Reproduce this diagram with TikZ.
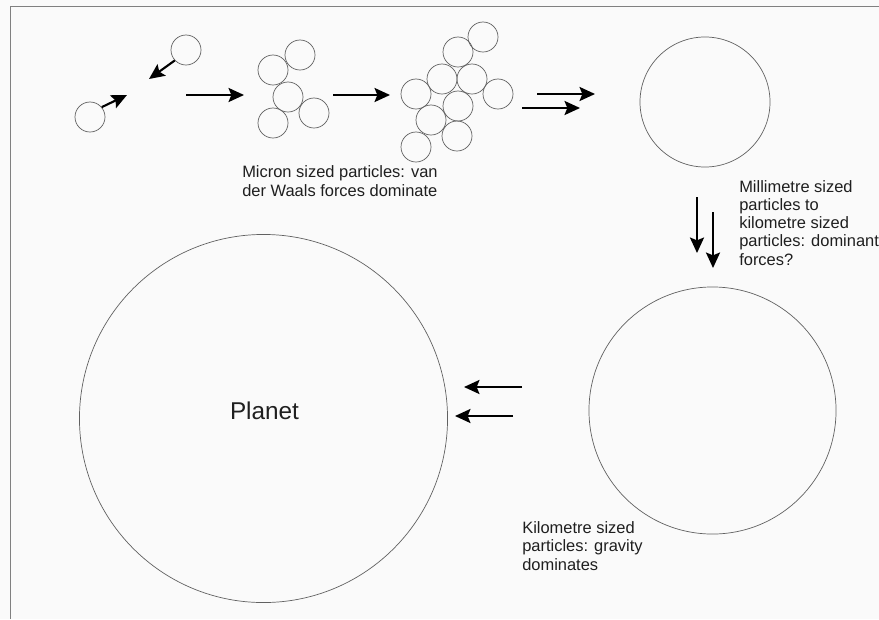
\documentclass[tikz,border=0pt]{standalone}
\usepackage{fontspec}
\setmainfont{Liberation Sans}
\usetikzlibrary{arrows.meta}
\tikzset{
	grain/.style={circle, draw=black!62, line width=0.5pt, inner sep=0pt, minimum size=0.75cm},
	body/.style={circle, draw=black!62, line width=0.5pt, inner sep=0pt},
	flow/.style={line width=1.5pt, -{Stealth[length=11pt, width=10pt, inset=2pt]}},
	caption/.style={anchor=base west, inner sep=0pt, align=left, text=black!88, font=\fontsize{11.7}{12.9}\selectfont},
	frame/.style={draw=black!50, line width=0.7pt},
}

\begin{document}
\begin{tikzpicture}[x=0.025cm, y=-0.025cm]
		%%%%% START %%%%%
		\fill[black!2] (0, 0) rectangle (879, 619);
		\useasboundingbox (0, 0) rectangle (879, 619);
		\draw[frame] (10, 619) -- (10, 6) -- (879, 6);
		
		% two free grains
		\node[grain] (g1) at (90, 117) {};
		\node[grain] (g2) at (186, 50) {};
		\coordinate (g1hit) at (127, 95);
		\coordinate (g2hit) at (149, 79);
		\draw[flow] (g1.40) -- (g1hit);
		\draw[flow] (g2.223) -- (g2hit);
		
		% small cluster
		\node[grain] (c1) at (273, 70) {};
		\node[grain] (c2) at (300, 55) {};
		\node[grain] (c3) at (288, 97) {};
		\node[grain] (c4) at (314, 113) {};
		\node[grain] (c5) at (273, 123) {};
		\coordinate (s1a) at (186, 95);
		\coordinate (s1b) at (244, 95);
		\draw[flow] (s1a) -- (s1b);
		
		% big cluster
		\node[grain] (k1) at (483, 37) {};
		\node[grain] (k2) at (458, 52) {};
		\node[grain] (k3) at (442, 79) {};
		\node[grain] (k4) at (472, 79) {};
		\node[grain] (k5) at (416, 94) {};
		\node[grain] (k6) at (498, 94) {};
		\node[grain] (k7) at (458, 106) {};
		\node[grain] (k8) at (431, 120) {};
		\node[grain] (k9) at (457, 136) {};
		\node[grain] (k10) at (416, 147) {};
		\coordinate (s2a) at (333, 95);
		\coordinate (s2b) at (390, 95);
		\draw[flow] (s2a) -- (s2b);
		
		% base anchor sits on the last line
		\node[caption] (micron) at (242, 196) {Micron sized particles: van\\der Waals forces dominate};
		
		% pebble
		\coordinate (s3a) at (537, 94);
		\coordinate (s3b) at (595, 94);
		\coordinate (s4a) at (522, 108);
		\coordinate (s4b) at (580, 108);
		\draw[flow] (s3a) -- (s3b);
		\draw[flow] (s4a) -- (s4b);
		\node[body, minimum size=3.25cm] (pebble) at (705, 102) {};
		
		\node[caption] (milli) at (739, 265) {Millimetre sized\\particles to\\kilometre sized\\particles: dominant\\forces?};
		\coordinate (d1a) at (697, 197);
		\coordinate (d1b) at (697, 253);
		\coordinate (d2a) at (713, 212);
		\coordinate (d2b) at (713, 268);
		\draw[flow] (d1a) -- (d1b);
		\draw[flow] (d2a) -- (d2b);
		
		% planetesimal
		\node[body, minimum size=6.175cm] (kilo) at (712.5, 410.5) {};
		\node[caption] (kilotext) at (522, 570) {Kilometre sized\\particles: gravity\\dominates};
		\coordinate (l1a) at (522, 387);
		\coordinate (l1b) at (464, 387);
		\coordinate (l2a) at (513, 416);
		\coordinate (l2b) at (455, 416);
		\draw[flow] (l1a) -- (l1b);
		\draw[flow] (l2a) -- (l2b);
		
		% planet
		\node[body, minimum size=9.2cm] (planet) at (263.5, 418.5) {};
		\node[inner sep=0pt, text=black!88, font=\fontsize{17.3}{20}\selectfont] (planetname) at (264.5, 411) {Planet};
		%%%%% END %%%%%
	\end{tikzpicture}
\end{document}
